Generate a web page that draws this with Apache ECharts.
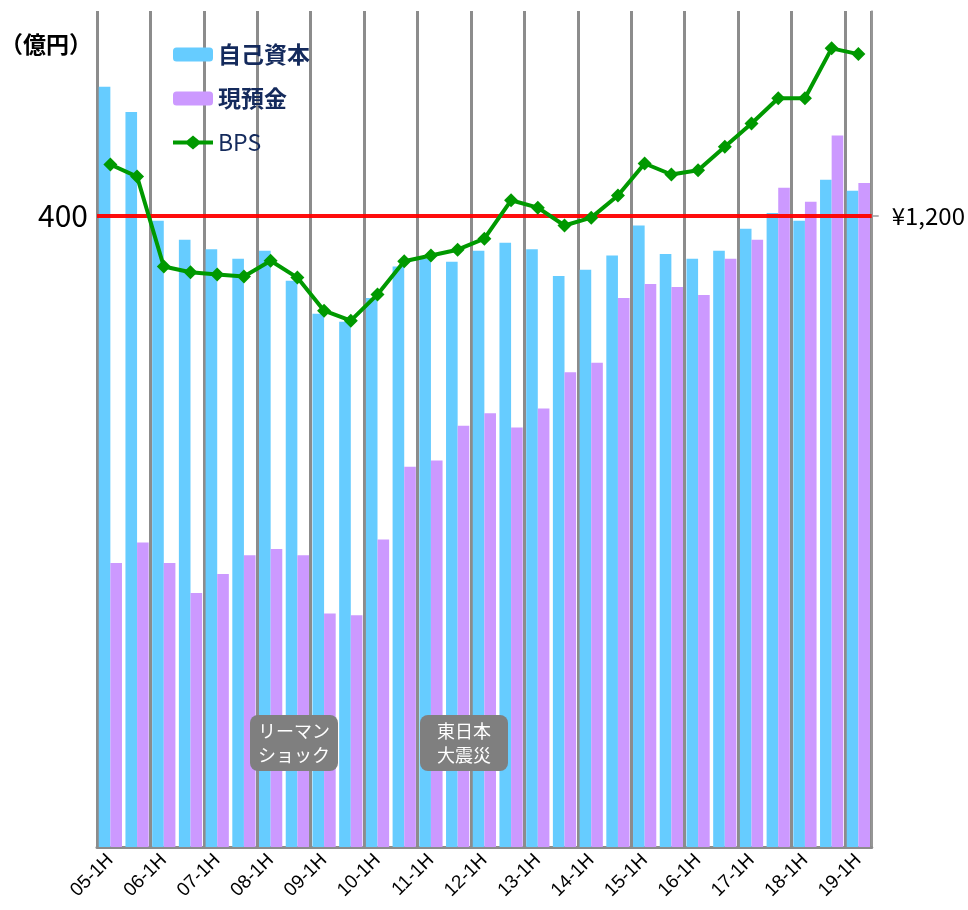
<!DOCTYPE html>
<html>
<head>
<meta charset="utf-8">
<script src="https://cdn.jsdelivr.net/npm/echarts@6/dist/echarts.min.js"></script>
<style>
  html, body { margin: 0; padding: 0; background: #fff; }
  #main { width: 968px; height: 910px; }
</style>
</head>
<body>
<div id="main"></div>
<script>
// 半期ごとのカテゴリ
const categories = [
  '05-1H', '05-2H', '06-1H', '06-2H', '07-1H', '07-2H', '08-1H', '08-2H',
  '09-1H', '09-2H', '10-1H', '10-2H', '11-1H', '11-2H', '12-1H', '12-2H',
  '13-1H', '13-2H', '14-1H', '14-2H', '15-1H', '15-2H', '16-1H', '16-2H',
  '17-1H', '17-2H', '18-1H', '18-2H', '19-1H'
];

// 自己資本（億円）
const equity = [
  482, 466, 397, 385, 379, 373, 378, 359,
  338, 333, 348, 368, 373, 371, 378, 383,
  379, 362, 366, 375, 394, 376, 373, 378,
  392, 402, 397, 423, 416
];

// 現預金（億円）
const cash = [
  180, 193, 180, 161, 173, 185, 189, 185,
  148, 147, 195, 241, 245, 267, 275, 266,
  278, 301, 307, 348, 357, 355, 350, 373,
  385, 418, 409, 451, 421
];

// BPS（円）
const bps = [
  1298, 1275, 1104, 1093, 1089, 1085, 1115, 1083,
  1020, 1001, 1051, 1114, 1125, 1136, 1157, 1230,
  1216, 1182, 1197, 1239, 1300, 1279, 1287, 1332,
  1376, 1424, 1424, 1519, 1508
];

const leftMax = 530;
const rightMax = 1590;

const chart = echarts.init(document.getElementById('main'));

// 凡例用：線＋ひし形
const bpsIcon = 'path://M0,5 L14,5 L20,0 L26,5 L40,5 L40,9 L26,9 L20,14 L14,9 L0,9 Z';

const option = {
  animation: false,
  textStyle: { fontFamily: '"Noto Sans CJK JP", "Noto Sans", sans-serif' },
  grid: { left: 97, right: 95, top: 11, bottom: 63 },
  legend: {
    orient: 'vertical',
    left: 168,
    top: 38,
    itemWidth: 40,
    itemHeight: 14,
    itemGap: 21,
    data: [
      { name: '自己資本' },
      { name: '現預金' },
      { name: 'BPS', icon: bpsIcon, itemStyle: { color: '#009900' } }
    ],
    formatter: name => name === 'BPS' ? '{n|BPS}' : '{b|' + name + '}',
    textStyle: {
      rich: {
        b: { fontSize: 23, fontWeight: 'bold', color: '#142a5c', fontFamily: '"Noto Sans CJK JP"' },
        n: { fontSize: 23, color: '#142a5c', fontFamily: '"Noto Sans CJK JP"' }
      }
    }
  },
  xAxis: {
    type: 'category',
    data: categories,
    axisLine: { lineStyle: { color: '#8c8c8c', width: 3 } },
    axisTick: { show: false },
    axisLabel: {
      interval: 1,
      rotate: 45,
      fontSize: 19,
      color: '#000',
      fontFamily: '"Liberation Sans", Arial, sans-serif',
      margin: 10
    },
    splitLine: {
      show: true,
      interval: 1,
      lineStyle: { color: '#8c8c8c', width: 3 }
    }
  },
  yAxis: [
    {
      type: 'value',
      min: 0,
      max: leftMax,
      interval: 400,
      axisLine: { show: false },
      axisTick: { show: false },
      splitLine: { show: false },
      axisLabel: {
        fontSize: 30,
        color: '#000',
        margin: 9,
        formatter: v => v === 400 ? '400' : ''
      }
    },
    {
      type: 'value',
      min: 0,
      max: rightMax,
      interval: 1200,
      axisLine: { show: true, lineStyle: { color: '#9a9a9a', width: 1.5 } },
      axisTick: { show: true, customValues: [1200], length: 7, lineStyle: { color: '#9a9a9a', width: 1.5 } },
      splitLine: { show: false },
      axisLabel: {
        fontSize: 24,
        color: '#000',
        margin: 20,
        formatter: v => v === 1200 ? '¥1,200' : ''
      }
    }
  ],
  series: [
    {
      name: '自己資本',
      type: 'bar',
      data: equity,
      barGap: '0%',
      barCategoryGap: '13%',
      itemStyle: { color: '#66ccff' },
      markLine: {
        silent: true,
        symbol: 'none',
        label: { show: false },
        lineStyle: { color: '#ff0000', width: 4, type: 'solid', opacity: 0.95 },
        data: [{ yAxis: 400 }]
      }
    },
    {
      name: '現預金',
      type: 'bar',
      data: cash,
      itemStyle: { color: '#cc99ff' }
    },
    {
      name: 'BPS',
      type: 'line',
      yAxisIndex: 1,
      data: bps,
      symbol: 'diamond',
      symbolSize: 14,
      z: 5,
      lineStyle: { color: '#009900', width: 4 },
      itemStyle: { color: '#009900' }
    }
  ],
  graphic: [
    {
      type: 'text',
      left: 0,
      top: 33,
      style: {
        text: '（億円）',
        fill: '#000',
        font: 'bold 23px "Noto Sans CJK JP"'
      }
    },
    {
      type: 'text',
      x: 294,
      y: 743,
      z: 10,
      style: {
        text: 'リーマン\nショック',
        fill: '#fff',
        font: '18px "Noto Sans CJK JP"',
        lineHeight: 24,
        align: 'center',
        verticalAlign: 'middle',
        backgroundColor: '#7f7f7f',
        borderRadius: 8,
        padding: [4, 8]
      }
    },
    {
      type: 'text',
      x: 464,
      y: 743,
      z: 10,
      style: {
        text: '東日本\n大震災',
        fill: '#fff',
        font: '18px "Noto Sans CJK JP"',
        lineHeight: 24,
        align: 'center',
        verticalAlign: 'middle',
        backgroundColor: '#7f7f7f',
        borderRadius: 8,
        padding: [4, 17]
      }
    }
  ]
};

chart.setOption(option);
</script>
</body>
</html>
